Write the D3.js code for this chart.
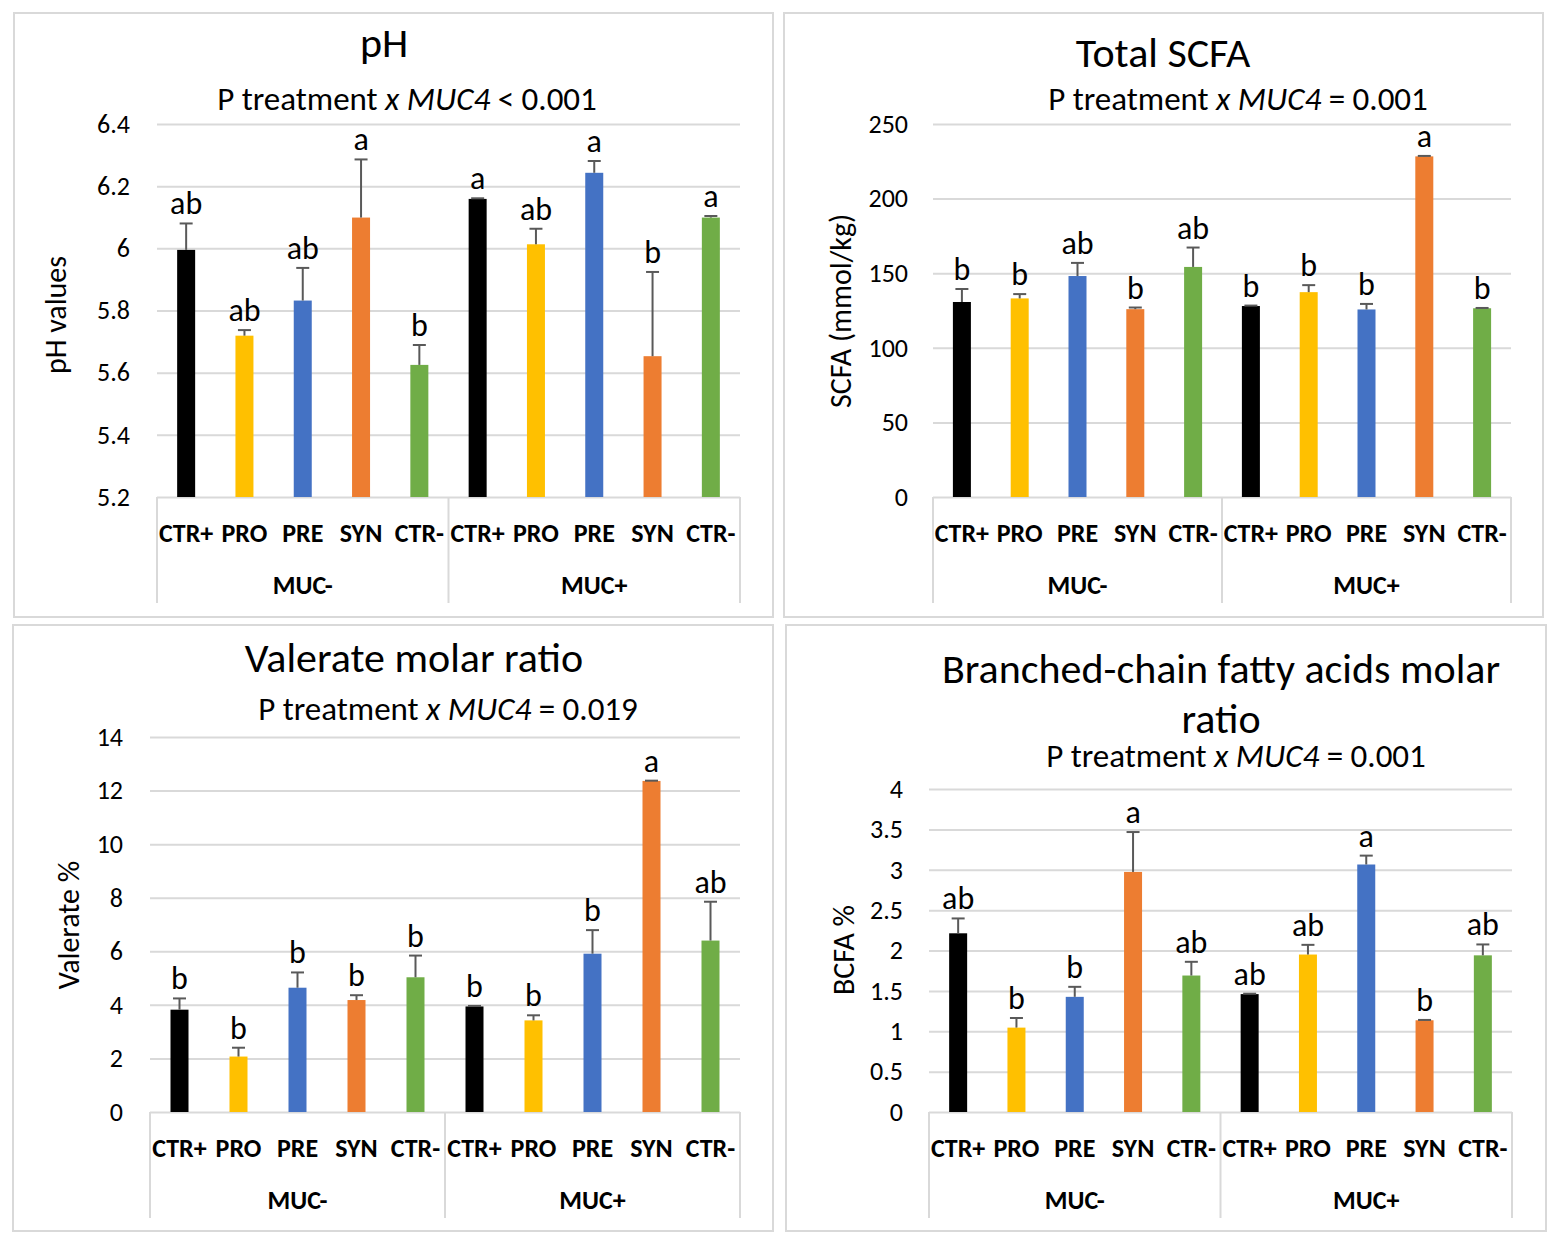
<!DOCTYPE html>
<html>
<head>
<meta charset="utf-8">
<script src="https://cdn.jsdelivr.net/npm/d3@7"></script>
<style>
body{margin:0;background:#fff;}
svg text{font-family:Carlito,Lato,sans-serif;fill:#000;}
</style>
</head>
<body>
<svg id="chart" width="1559" height="1246"></svg>
<script>
'use strict';
var categories = ['CTR+','PRO','PRE','SYN','CTR-'];
var groups = ['MUC-','MUC+'];
var colors = ['#000000','#ffc000','#4472c4','#ed7d31','#70ad47'];

// pH
var phTicks = [5.2,5.4,5.6,5.8,6.0,6.2,6.4];
var phMean = [5.995,5.719,5.832,6.099,5.625, 6.159,6.013,6.243,5.653,6.099];
var phSE = [0.085,0.018,0.105,0.187,0.064, 0.002,0.050,0.038,0.271,0.005];
var phLetters = ['ab','ab','ab','a','b', 'a','ab','a','b','a'];

// total SCFA
var scfaTicks = [0,50,100,150,200,250];
var scfaMean = [130.7,133.1,148.1,125.9,154.2, 128.0,137.3,125.7,228.3,126.5];
var scfaSE = [8.7,2.9,8.8,1.1,13.0, 0.3,4.7,3.7,0.3,0.2];
var scfaLetters = ['b','b','ab','b','ab', 'b','b','b','a','b'];

// valerate
var valTicks = [0,2,4,6,8,10,12,14];
var valMean = [3.82,2.07,4.64,4.18,5.03, 3.94,3.42,5.91,12.36,6.40];
var valSE = [0.42,0.33,0.57,0.18,0.81, 0.02,0.19,0.88,0.01,1.45];
var valLetters = ['b','b','b','b','b', 'b','b','b','a','ab'];

// BCFA
var bcfaTicks = [0,0.5,1,1.5,2,2.5,3,3.5,4];
var bcfaMean = [2.213,1.045,1.426,2.973,1.690, 1.460,1.950,3.065,1.136,1.940];
var bcfaSE = [0.184,0.119,0.124,0.494,0.170, 0.005,0.120,0.110,0.004,0.135];
var bcfaLetters = ['ab','b','b','a','ab', 'ab','ab','a','b','ab'];

var gridColor = '#d9d9d9',
    errColor = '#595959',
    barWidth = 18;

var panels = [
    {title:['pH'], pText:'< 0.001', yLabel:'pH values',
     mean:phMean, se:phSE, letters:phLetters, ticks:phTicks,
     box:[14,13,773,617], x:[157,740], y:[124,497],
     titleX:384, titleY:57, subX:407, subY:110, yLabX:55, yLabY:315, tickX:130},
    {title:['Total SCFA'], pText:'= 0.001', yLabel:'SCFA (mmol/kg)',
     mean:scfaMean, se:scfaSE, letters:scfaLetters, ticks:scfaTicks,
     box:[784,13,1543,617], x:[933,1511], y:[124,497],
     titleX:1163, titleY:67, subX:1238, subY:110, yLabX:840, yLabY:311, tickX:908},
    {title:['Valerate molar ratio'], pText:'= 0.019', yLabel:'Valerate %',
     mean:valMean, se:valSE, letters:valLetters, ticks:valTicks,
     box:[13,625,773,1231], x:[150,740], y:[737,1112],
     titleX:414, titleY:672, subX:448, subY:720, yLabX:68, yLabY:925, tickX:123},
    {title:['Branched-chain fatty acids molar','ratio'], pText:'= 0.001', yLabel:'BCFA %',
     mean:bcfaMean, se:bcfaSE, letters:bcfaLetters, ticks:bcfaTicks,
     box:[786,625,1546,1231], x:[929,1512], y:[789,1112],
     titleX:1221, titleY:683, subX:1236, subY:767, yLabX:843, yLabY:950, tickX:903}
];

var svg = d3.select('#chart');

panels.forEach(function(p){
    var g = svg.append('g');
    g.append('rect')
        .attr('x', p.box[0]).attr('y', p.box[1])
        .attr('width', p.box[2]-p.box[0]).attr('height', p.box[3]-p.box[1])
        .attr('fill', 'none').attr('stroke', gridColor).attr('stroke-width', 2);

    var y = d3.scaleLinear().domain(d3.extent(p.ticks)).range([p.y[1], p.y[0]]);
    var idx = d3.range(p.mean.length);
    var step = (p.x[1]-p.x[0])/idx.length;
    var pad = 1 - barWidth/step;
    var x = d3.scaleBand().domain(idx).range(p.x).paddingInner(pad).paddingOuter(pad/2);
    var base = y(p.ticks[0]);

    // gridlines and tick labels
    var ax = g.append('g')
        .attr('transform', 'translate(' + p.x[0] + ',0)')
        .call(d3.axisLeft(y)
            .tickValues(p.ticks)
            .tickSize(-(p.x[1]-p.x[0]))
            .tickPadding(p.x[0]-p.tickX)
            .tickFormat(d3.format('~g')));
    ax.attr('font-size', null).attr('font-family', null);
    ax.select('.domain').remove();
    ax.selectAll('line').attr('stroke', gridColor).attr('stroke-width', 2);
    ax.selectAll('text').attr('font-size', 26).attr('fill', '#000');

    // bars
    g.selectAll('.bar').data(idx).enter().append('rect')
        .attr('class', 'bar')
        .attr('x', function(i){return x(i);})
        .attr('width', x.bandwidth())
        .attr('y', function(i){return y(p.mean[i]);})
        .attr('height', function(i){return base - y(p.mean[i]);})
        .attr('fill', function(i){return colors[i % categories.length];});

    // error bars
    var cx = function(i){return x(i) + x.bandwidth()/2;};
    var top = function(i){return y(p.mean[i] + p.se[i]);};
    g.selectAll('.err').data(idx).enter().append('line')
        .attr('x1', cx).attr('x2', cx)
        .attr('y1', function(i){return y(p.mean[i]);})
        .attr('y2', top)
        .attr('stroke', errColor).attr('stroke-width', 2);
    g.selectAll('.cap').data(idx).enter().append('line')
        .attr('x1', function(i){return cx(i) - 6.5;})
        .attr('x2', function(i){return cx(i) + 6.5;})
        .attr('y1', top).attr('y2', top)
        .attr('stroke', errColor).attr('stroke-width', 2);

    // significance letters
    g.selectAll('.letter').data(idx).enter().append('text')
        .text(function(i){return p.letters[i];})
        .attr('x', cx)
        .attr('y', function(i){return top(i) - 9;})
        .attr('text-anchor', 'middle')
        .attr('font-size', 32);

    // category axis
    [0, 5, 10].forEach(function(k){
        var xx = p.x[0] + k*step;
        g.append('line')
            .attr('x1', xx).attr('x2', xx)
            .attr('y1', base).attr('y2', base + 106)
            .attr('stroke', gridColor).attr('stroke-width', 2);
    });
    g.selectAll('.cat').data(idx).enter().append('text')
        .text(function(i){return categories[i % categories.length];})
        .attr('x', cx)
        .attr('y', base + 45)
        .attr('text-anchor', 'middle')
        .attr('font-size', 26)
        .attr('font-weight', 'bold');
    g.selectAll('.grp').data(groups).enter().append('text')
        .text(function(d){return d;})
        .attr('x', function(d, j){return p.x[0] + (j*5 + 2.5)*step;})
        .attr('y', base + 97)
        .attr('text-anchor', 'middle')
        .attr('font-size', 26)
        .attr('font-weight', 'bold');

    // titles
    p.title.forEach(function(t, k){
        g.append('text').text(t)
            .attr('x', p.titleX).attr('y', p.titleY + k*50)
            .attr('text-anchor', 'middle')
            .attr('font-size', 42);
    });
    var sub = g.append('text')
        .attr('x', p.subX).attr('y', p.subY)
        .attr('text-anchor', 'middle')
        .attr('font-size', 33);
    sub.append('tspan').text('P treatment ');
    sub.append('tspan').text('x MUC4').attr('font-style', 'italic');
    sub.append('tspan').text(' ' + p.pText);

    g.append('text').text(p.yLabel)
        .attr('transform', 'translate(' + p.yLabX + ',' + p.yLabY + ') rotate(-90)')
        .attr('dy', '0.35em')
        .attr('text-anchor', 'middle')
        .attr('font-size', 30);
});
</script>
</body>
</html>
